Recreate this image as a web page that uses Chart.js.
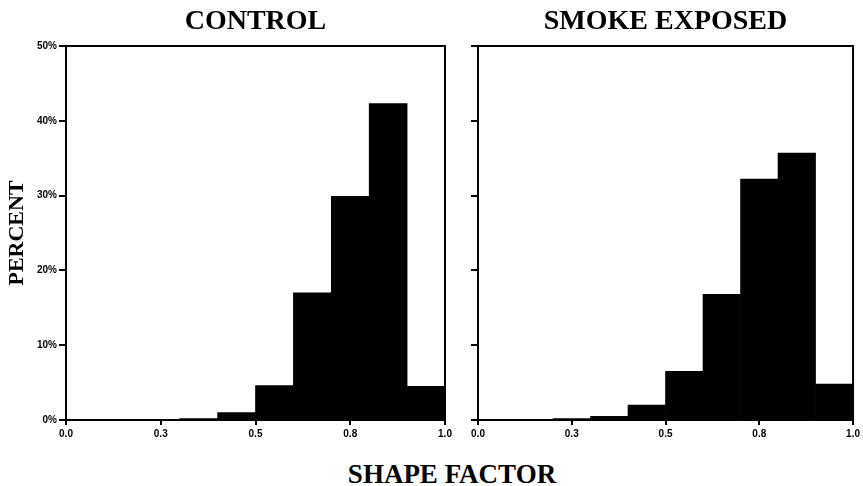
<!DOCTYPE html>
<html>
<head>
<meta charset="utf-8">
<script src="https://cdn.jsdelivr.net/npm/chart.js@4"></script>
<style>
  body { margin: 0; background: #fff; }
  #wrap { position: relative; width: 863px; height: 486px; overflow: hidden; }
  #left { position: absolute; left: 0; top: 0; }
  #right { position: absolute; left: 460px; top: 0; }
  #xlabel {
    position: absolute; left: 0; width: 904px; top: 461px;
    text-align: center; font: bold 27px "Liberation Serif", "Times New Roman", serif;
    line-height: 26px; color: #000;
  }
</style>
</head>
<body>
<div id="wrap">
  <canvas id="left" width="460" height="445"></canvas>
  <canvas id="right" width="403" height="445"></canvas>
  <div id="xlabel">SHAPE FACTOR</div>
</div>
<script>
// bin centres of the shape factor histogram (bins 0.1 wide)
const binCenters = [0.05, 0.15, 0.25, 0.35, 0.45, 0.55, 0.65, 0.75, 0.85, 0.95];
const controlPct = [0, 0, 0, 0.2, 1.0, 4.6, 17.0, 29.9, 42.3, 4.5];
const smokePct = [0, 0, 0.2, 0.5, 2.0, 6.5, 16.8, 32.2, 35.7, 4.8];
const xTicks = [0, 0.25, 0.5, 0.75, 1];
const yTicks = [0, 10, 20, 30, 40, 50];

const serif = '"Liberation Serif", "Times New Roman", serif';
const sans = '"Liberation Sans", Arial, sans-serif';

// closes the box on the top and right side of the plot
const frame = {
  id: 'frame',
  afterDraw(chart) {
    const { ctx, chartArea: a } = chart;
    ctx.save();
    ctx.strokeStyle = '#000';
    ctx.lineWidth = 2;
    ctx.beginPath();
    ctx.moveTo(a.left, a.top);
    ctx.lineTo(a.right, a.top);
    ctx.lineTo(a.right, a.bottom);
    ctx.stroke();
    ctx.restore();
  }
};

function makeHist(id, title, values, opts) {
  return new Chart(document.getElementById(id), {
    type: 'bar',
    data: {
      datasets: [{
        data: binCenters.map((x, i) => ({ x: x, y: values[i] })),
        backgroundColor: '#000',
        borderWidth: 0,
        barPercentage: 1,
        categoryPercentage: 1
      }]
    },
    options: {
      responsive: false,
      animation: false,
      layout: { padding: { left: 0, right: opts.padRight, top: 0, bottom: 0 } },
      plugins: {
        legend: { display: false },
        tooltip: { enabled: false },
        title: {
          display: true,
          text: title,
          fullSize: false,
          color: '#000',
          font: { family: serif, size: 28, weight: 'bold', lineHeight: 1 },
          padding: { top: 8, bottom: 10 }
        }
      },
      scales: {
        x: {
          type: 'linear',
          min: 0,
          max: 1,
          offset: false,
          afterBuildTicks: s => { s.ticks = xTicks.map(v => ({ value: v })); },
          afterFit: s => { s.height = 25; },
          ticks: {
            color: '#000',
            padding: 3,
            maxRotation: 0,
            font: { family: sans, size: 10, weight: 'bold' },
            callback: v => v.toFixed(1)
          },
          grid: { drawOnChartArea: false, drawTicks: true, tickLength: 5, color: '#000', lineWidth: 2, offset: false },
          border: { display: true, color: '#000', width: 2 }
        },
        y: {
          min: 0,
          max: 50,
          afterBuildTicks: s => { s.ticks = yTicks.map(v => ({ value: v })); },
          afterFit: s => { s.width = opts.yWidth; },
          title: {
            display: opts.showY,
            text: 'PERCENT',
            color: '#000',
            font: { family: serif, size: 22, weight: 'bold' },
            padding: { top: 4, bottom: 0 }
          },
          ticks: {
            display: opts.showY,
            color: '#000',
            padding: 2,
            font: { family: sans, size: 10, weight: 'bold' },
            callback: v => v + '%'
          },
          grid: { drawOnChartArea: false, drawTicks: true, tickLength: 7, color: '#000', lineWidth: 2 },
          border: { display: true, color: '#000', width: 2 }
        }
      }
    },
    plugins: [frame]
  });
}

makeHist('left', 'CONTROL', controlPct, { padRight: 15, yWidth: 66, showY: true });
makeHist('right', 'SMOKE EXPOSED', smokePct, { padRight: 9, yWidth: 18, showY: false });
</script>
</body>
</html>
